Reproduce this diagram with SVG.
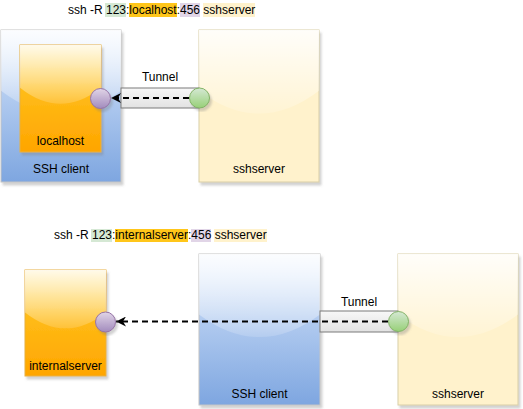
<svg xmlns="http://www.w3.org/2000/svg" width="523" height="409" viewBox="0 0 523 409">
<style>
text{font-family:"Liberation Sans",Arial,Helvetica,sans-serif;font-size:12px;fill:#000}
.mid{text-anchor:middle}
.box{stroke:#c4c4c4;stroke-width:1;filter:url(#sh)}
.client{fill:url(#gClient)}
.server{fill:#fff2cc;stroke:#d9cfa8}
.host{fill:url(#gHost);stroke:#e8b040}
.glass{fill:url(#gGlass);stroke:none}
.band{fill:url(#gBand);stroke:#7a7a7a;stroke-width:1}
.pc{fill:url(#gPurple);stroke:#9673a6;stroke-width:1;filter:url(#sh)}
.gc{fill:url(#gGreen);stroke:#82b366;stroke-width:1;filter:url(#sh)}
.arrow{fill:none;stroke:#000;stroke-width:2;stroke-dasharray:6 4;marker-end:url(#ah)}
</style>
<defs>
<filter id="sh" x="-20%" y="-20%" width="140%" height="140%">
<feDropShadow dx="2" dy="3" stdDeviation="1" flood-color="#808080" flood-opacity="0.35"/>
</filter>
<linearGradient id="gClient" x1="0" y1="0" x2="0" y2="1">
<stop offset="0" stop-color="#dae8fc"/><stop offset="1" stop-color="#7ea6e0"/>
</linearGradient>
<linearGradient id="gHost" x1="0" y1="0" x2="0" y2="1">
<stop offset="0" stop-color="#ffcd28"/><stop offset="1" stop-color="#ffa500"/>
</linearGradient>
<linearGradient id="gGlass" x1="0" y1="0" x2="0" y2="1">
<stop offset="0" stop-color="#fff" stop-opacity="0.9"/><stop offset="1" stop-color="#fff" stop-opacity="0.15"/>
</linearGradient>
<linearGradient id="gBand" x1="0" y1="0" x2="0" y2="1">
<stop offset="0" stop-color="#f8f8f8"/><stop offset="1" stop-color="#e2e2e2"/>
</linearGradient>
<linearGradient id="gPurple" x1="0" y1="0" x2="0" y2="1">
<stop offset="0" stop-color="#e1d5e7"/><stop offset="1" stop-color="#a28bbd"/>
</linearGradient>
<linearGradient id="gGreen" x1="0" y1="0" x2="0" y2="1">
<stop offset="0" stop-color="#d5e8d4"/><stop offset="1" stop-color="#97d077"/>
</linearGradient>
<marker id="ah" viewBox="0 0 10 10" refX="10" refY="5" markerWidth="10" markerHeight="10" markerUnits="userSpaceOnUse" orient="auto">
<path d="M0,0 L10,5 L0,10 L3,5 Z" fill="#000"/>
</marker>
</defs>

<g id="cmd1">
<rect x="105" y="3" width="21" height="14" fill="#d5e8d4"/>
<rect x="129" y="3" width="48" height="14" fill="#ffc61a"/>
<rect x="180" y="3" width="20" height="14" fill="#e1d5e7"/>
<rect x="203" y="3" width="52" height="14" fill="#fff2cc"/>
<text y="14"><tspan x="68">ssh -R </tspan><tspan x="106">123</tspan><tspan x="126">:</tspan><tspan x="129.3">localhost</tspan><tspan x="176.7">:</tspan><tspan x="180">456</tspan><tspan x="203.3">sshserver</tspan></text>
</g>

<g id="sshclient1">
<rect class="box client" x="1" y="30" width="120" height="152"/>
<path class="glass" d="M1,30 L1,90.8 Q61,136.4 121,90.8 L121,30 Z"/>
<text class="mid" x="61" y="173">SSH client</text>
</g>
<g id="localhost">
<rect class="box host" x="20" y="45" width="81" height="107"/>
<path class="glass" d="M20,45 L20,87.8 Q60.5,119.9 101,87.8 L101,45 Z"/>
<text class="mid" x="60.5" y="145">localhost</text>
</g>
<g id="sshserver1">
<rect class="box server" x="199" y="30" width="120" height="152"/>
<path class="glass" d="M199,30 L199,90.8 Q259,136.4 319,90.8 L319,30 Z"/>
<text class="mid" x="259" y="173">sshserver</text>
</g>
<g id="tunnel1">
<rect class="band" x="121" y="88" width="78" height="20"/>
<text class="mid" x="160" y="81">Tunnel</text>
</g>

<g id="cmd2">
<rect x="91" y="229" width="21" height="13" fill="#d5e8d4"/>
<rect x="115" y="229" width="73" height="13" fill="#ffc61a"/>
<rect x="191" y="229" width="20" height="13" fill="#e1d5e7"/>
<rect x="214" y="229" width="53" height="13" fill="#fff2cc"/>
<text y="239"><tspan x="54">ssh -R </tspan><tspan x="92">123</tspan><tspan x="112">:</tspan><tspan x="115.3">internalserver</tspan><tspan x="188">:</tspan><tspan x="191.3">456</tspan><tspan x="214.7">sshserver</tspan></text>
</g>

<g id="internalserver">
<rect class="box host" x="25" y="270" width="81" height="106"/>
<path class="glass" d="M25,270 L25,312.4 Q65.5,344.2 106,312.4 L106,270 Z"/>
<text class="mid" x="65.5" y="370">internalserver</text>
</g>
<g id="sshclient2">
<rect class="box client" x="199" y="254" width="121" height="151"/>
<path class="glass" d="M199,254 L199,314.4 Q259.5,359.7 320,314.4 L320,254 Z"/>
<text class="mid" x="259.5" y="398">SSH client</text>
</g>
<g id="sshserver2">
<rect class="box server" x="398" y="254" width="120" height="151"/>
<path class="glass" d="M398,254 L398,314.4 Q458,359.7 518,314.4 L518,254 Z"/>
<text class="mid" x="458" y="398">sshserver</text>
</g>
<g id="tunnel2">
<rect class="band" x="320" y="311" width="78" height="21"/>
<text class="mid" x="359" y="306">Tunnel</text>
</g>

<g id="connectors">
<path class="arrow" d="M189,98 L111,98"/>
<path class="arrow" d="M388,321.5 L116,321.5"/>
</g>

<g id="port-local1"><circle class="pc" cx="100.5" cy="98.5" r="10"/></g>
<g id="port-remote1"><circle class="gc" cx="199.5" cy="98" r="10"/></g>
<g id="port-local2"><circle class="pc" cx="105.5" cy="322" r="10"/></g>
<g id="port-remote2"><circle class="gc" cx="398.5" cy="321.5" r="10"/></g>
</svg>
